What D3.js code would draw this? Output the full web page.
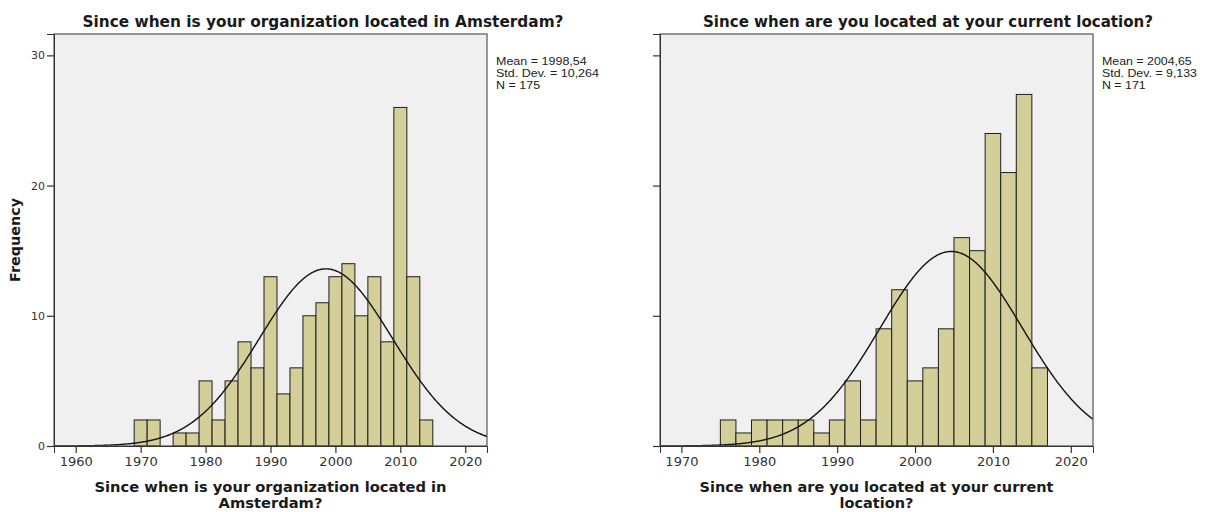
<!DOCTYPE html>
<html>
<head>
<meta charset="utf-8">
<script src="https://cdn.jsdelivr.net/npm/d3@7"></script>
<style>
  html, body { margin: 0; padding: 0; background: #fff; }
  svg { display: block; }
</style>
</head>
<body>
<svg id="chart" width="1205" height="512"></svg>
<script>
// Histogram 1: year the organization settled in Amsterdam (2-year bins)
const binStartsA = [1969,1971,1973,1975,1977,1979,1981,1983,1985,1987,1989,1991,1993,1995,1997,1999,2001,2003,2005,2007,2009,2011,2013];
const countsA    = [2,2,0,1,1,5,2,5,8,6,13,4,6,10,11,13,14,10,13,8,26,13,2];
const statsA     = { mean: 1998.54, sd: 10.264, n: 175 };

// Histogram 2: year the organization moved to its current location (2-year bins)
const binStartsB = [1975,1977,1979,1981,1983,1985,1987,1989,1991,1993,1995,1997,1999,2001,2003,2005,2007,2009,2011,2013,2015];
const countsB    = [2,1,2,2,2,2,1,2,5,2,9,12,5,6,9,16,15,24,21,27,6];
const statsB     = { mean: 2004.65, sd: 9.133, n: 171 };

const binWidth = 2;
const xTicksA = [1960,1970,1980,1990,2000,2010,2020];
const xTicksB = [1970,1980,1990,2000,2010,2020];
const yTicks  = [0,10,20,30];

const titleA = "Since when is your organization located in Amsterdam?";
const titleB = "Since when are you located at your current location?";
const xLabelA = ["Since when is your organization located in", "Amsterdam?"];
const xLabelB = ["Since when are you located at your current", "location?"];
const legendA = ["Mean = 1998,54", "Std. Dev. = 10,264", "N = 175"];
const legendB = ["Mean = 2004,65", "Std. Dev. = 9,133", "N = 171"];

const svg = d3.select("#chart");
const FONT = "'DejaVu Sans', sans-serif";
const LEG_FONT = "'Liberation Sans', sans-serif";
const XLAB_SIZE = 14.5;
const LEG_SIZE = 10.5;

// natural width of a string in a given font
function natWidth(str, family, size, weight) {
  const t = svg.append("text")
    .attr("font-family", family).attr("font-weight", weight).attr("font-size", size)
    .text(str);
  const w = t.node().getComputedTextLength();
  t.remove();
  return w;
}

function panel(cfg) {
  const g = svg.append("g");
  const [x0, x1] = cfg.xRange;
  const top = 34, bottom = 446;

  const x = d3.scaleLinear().domain(cfg.xDomain).range([x0, x1]);
  const y = d3.scaleLinear().domain([0, 31.64]).range([bottom, top]);

  // plot background
  g.append("rect")
    .attr("x", x0).attr("y", top)
    .attr("width", x1 - x0).attr("height", bottom - top)
    .attr("fill", "#f0f0f0");

  const clipId = "clip" + cfg.id;
  svg.append("clipPath").attr("id", clipId)
    .append("rect").attr("x", x0).attr("y", top)
    .attr("width", x1 - x0).attr("height", bottom - top);

  // bars
  const bins = cfg.starts.map((s, i) => ({ s, c: cfg.counts[i] })).filter(d => d.c > 0);
  g.append("g").selectAll("rect").data(bins).join("rect")
    .attr("x", d => x(d.s))
    .attr("y", d => y(d.c))
    .attr("width", d => x(d.s + binWidth) - x(d.s))
    .attr("height", d => y(0) - y(d.c))
    .attr("fill", "#d4cf98")
    .attr("stroke", "#1e1e1e")
    .attr("stroke-width", 1);

  // fitted normal curve, scaled to counts per bin
  const { mean, sd, n } = cfg.stats;
  const dens = v => n * binWidth * Math.exp(-0.5 * ((v - mean) / sd) ** 2) / (sd * Math.sqrt(2 * Math.PI));
  const xs = d3.range(cfg.xDomain[0], cfg.xDomain[1] + 0.1, 0.1);
  g.append("path")
    .datum(xs)
    .attr("clip-path", `url(#${clipId})`)
    .attr("fill", "none")
    .attr("stroke", "#111")
    .attr("stroke-width", 1.4)
    .attr("d", d3.line().x(v => x(v)).y(v => y(dens(v))));

  // frame
  g.append("rect")
    .attr("x", x0).attr("y", top)
    .attr("width", x1 - x0).attr("height", bottom - top)
    .attr("fill", "none").attr("stroke", "#555").attr("stroke-width", 1.2);

  // x axis
  const xAxis = g.append("g")
    .attr("transform", `translate(0,${bottom})`)
    .call(d3.axisBottom(x).tickValues(cfg.xTicks).tickFormat(d3.format("d")).tickSizeOuter(0).tickSize(7).tickPadding(4));
  xAxis.select(".domain").attr("stroke", "#333");
  xAxis.selectAll(".tick line").attr("stroke", "#333").attr("stroke-width", 1.2);
  xAxis.selectAll("text").attr("font-family", FONT).attr("font-size", 13).attr("fill", "#333");

  // y axis
  const yAxis = g.append("g")
    .attr("transform", `translate(${x0},0)`)
    .call(d3.axisLeft(y).tickValues(yTicks).tickSizeOuter(0).tickSize(7).tickPadding(2)
      .tickFormat(cfg.yLabels ? d3.format("d") : () => ""));
  yAxis.select(".domain").attr("stroke", "#333");
  yAxis.selectAll(".tick line").attr("stroke", "#333").attr("stroke-width", 1.2);
  yAxis.selectAll("text").attr("font-family", FONT).attr("font-size", 11).attr("fill", "#333");

  // title
  g.append("text")
    .attr("x", cfg.titleX).attr("y", 27)
    .attr("text-anchor", "middle")
    .attr("font-family", FONT).attr("font-weight", "bold").attr("font-size", 16)
    .attr("fill", "#1a1a1a")
    .attr("textLength", cfg.titleW).attr("lengthAdjust", "spacingAndGlyphs")
    .text(cfg.title);

  // x axis title (two lines, same horizontal compression)
  const cx = (x0 + x1) / 2;
  const xScaleLab = cfg.xLabelW / natWidth(cfg.xLabel[0], FONT, XLAB_SIZE, "bold");
  g.append("g").selectAll("text").data(cfg.xLabel).join("text")
    .attr("x", cx).attr("y", (d, i) => 492 + i * 16)
    .attr("text-anchor", "middle")
    .attr("font-family", FONT).attr("font-weight", "bold").attr("font-size", XLAB_SIZE)
    .attr("fill", "#1a1a1a")
    .attr("textLength", d => natWidth(d, FONT, XLAB_SIZE, "bold") * xScaleLab)
    .attr("lengthAdjust", "spacingAndGlyphs")
    .text(d => d);

  // statistics legend
  const legScale = cfg.legendW / natWidth(cfg.legend[1], LEG_FONT, LEG_SIZE, "normal");
  g.append("g").selectAll("text").data(cfg.legend).join("text")
    .attr("x", cfg.legendX)
    .attr("y", (d, i) => 64.5 + i * 12)
    .attr("font-family", LEG_FONT)
    .attr("font-size", LEG_SIZE)
    .attr("fill", "#222")
    .attr("textLength", d => natWidth(d, LEG_FONT, LEG_SIZE, "normal") * legScale)
    .attr("lengthAdjust", "spacingAndGlyphs")
    .text(d => d);
}

panel({
  id: "A", xRange: [54, 487], xDomain: [1956.65, 2023.35],
  starts: binStartsA, counts: countsA, stats: statsA, xTicks: xTicksA, yLabels: true,
  title: titleA, titleX: 323, titleW: 481,
  xLabel: xLabelA, xLabelW: 352,
  legend: legendA, legendX: 496, legendW: 103
});

panel({
  id: "B", xRange: [660, 1093], xDomain: [1967.25, 2022.85],
  starts: binStartsB, counts: countsB, stats: statsB, xTicks: xTicksB, yLabels: false,
  title: titleB, titleX: 928, titleW: 450,
  xLabel: xLabelB, xLabelW: 354,
  legend: legendB, legendX: 1102, legendW: 95
});

// shared y axis title
svg.append("text")
  .attr("transform", "translate(20,240) rotate(-90)")
  .attr("text-anchor", "middle")
  .attr("font-family", FONT).attr("font-weight", "bold").attr("font-size", 14.5)
  .attr("fill", "#1a1a1a")
  .attr("textLength", 84).attr("lengthAdjust", "spacingAndGlyphs")
  .text("Frequency");
</script>
</body>
</html>
